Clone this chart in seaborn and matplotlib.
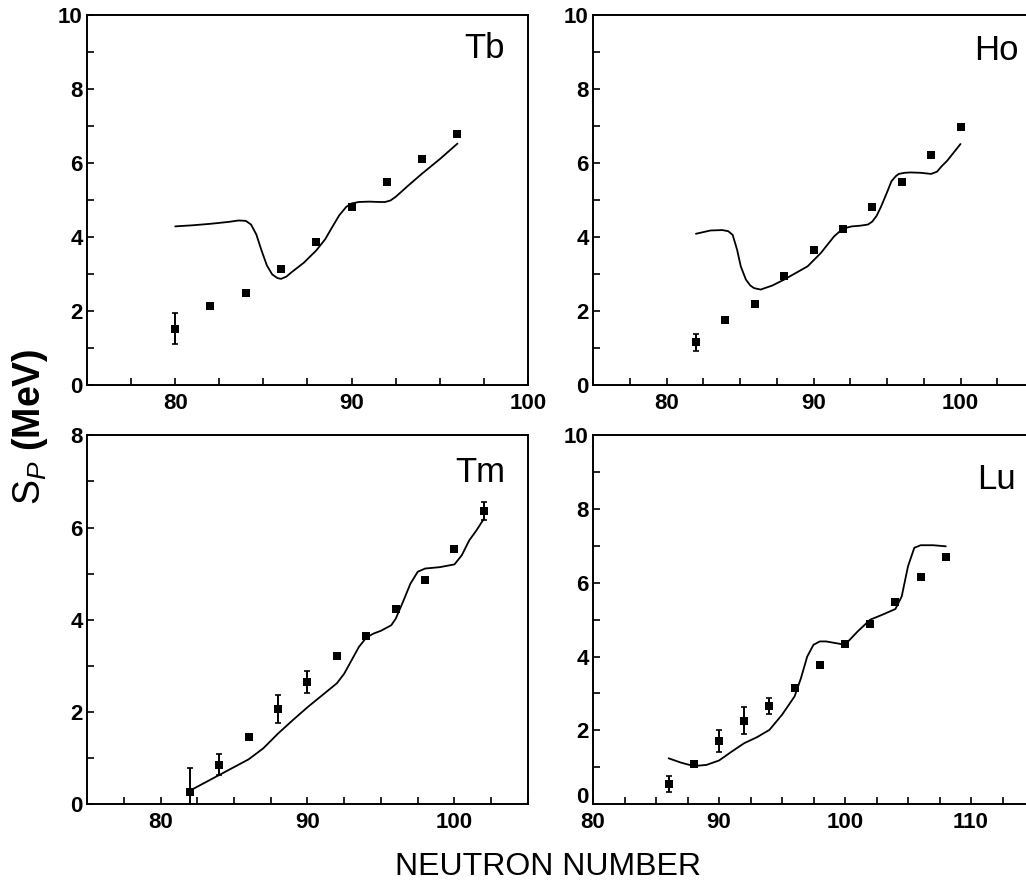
"""Proton separation energies S_P vs neutron number for Tb, Ho, Tm and Lu:
measured points (with error bars) and calculated curves."""
import pandas as pd
import seaborn as sns
import matplotlib.pyplot as plt
from matplotlib.ticker import MultipleLocator, FuncFormatter

# ---- measured points ----
tb_n = [80, 82, 84, 86, 88, 90, 92, 94, 96]
tb_sp = [1.51, 2.12, 2.48, 3.13, 3.86, 4.81, 5.49, 6.11, 6.79]
tb_err = [0.42, 0, 0, 0, 0, 0, 0, 0, 0]

ho_n = [82, 84, 86, 88, 90, 92, 94, 96, 98, 100]
ho_sp = [1.14, 1.76, 2.18, 2.95, 3.63, 4.21, 4.80, 5.48, 6.22, 6.98]
ho_err = [0.22, 0, 0, 0, 0, 0, 0, 0, 0, 0]

tm_n = [82, 84, 86, 88, 90, 92, 94, 96, 98, 100, 102]
tm_sp = [0.27, 0.85, 1.46, 2.06, 2.64, 3.21, 3.65, 4.24, 4.86, 5.53, 6.36]
tm_err = [0.52, 0.23, 0, 0.30, 0.24, 0.07, 0, 0, 0, 0, 0.20]

lu_n = [86, 88, 90, 92, 94, 96, 98, 100, 102, 104, 106, 108]
lu_sp = [0.54, 1.09, 1.71, 2.26, 2.66, 3.16, 3.77, 4.34, 4.89, 5.49, 6.17, 6.70]
lu_err = [0.22, 0, 0.29, 0.37, 0.22, 0.05, 0, 0, 0, 0, 0, 0]

# ---- calculated curves ----
tb_curve_n = [80, 81, 82, 83, 83.6, 84.0, 84.3, 84.6, 84.9, 85.2, 85.5, 85.8, 86.0, 86.3,
              86.6, 87.3, 88.0, 88.5, 88.9, 89.3, 89.7, 90.0, 90.4, 91.0, 91.6, 91.9, 92.2,
              92.5, 93.2, 94.0, 95.0, 96.0]
tb_curve_sp = [4.28, 4.31, 4.35, 4.40, 4.44, 4.43, 4.33, 4.06, 3.62, 3.22, 2.98, 2.88, 2.86,
               2.92, 3.04, 3.30, 3.63, 3.93, 4.26, 4.58, 4.81, 4.90, 4.94, 4.95, 4.94, 4.94,
               4.98, 5.08, 5.38, 5.71, 6.10, 6.52]

ho_curve_n = [82, 83, 83.8, 84.2, 84.5, 84.8, 85.05, 85.4, 85.7, 85.95, 86.4, 87.2, 88.0,
              89.6, 90.5, 91.4, 91.8, 92.1, 92.6, 93.2, 93.7, 94.0, 94.3, 94.6, 95.0, 95.3,
              95.6, 95.8, 96.2, 96.6, 97.3, 98.0, 98.4, 98.7, 99.1, 99.5, 100]
ho_curve_sp = [4.08, 4.17, 4.18, 4.15, 4.05, 3.65, 3.20, 2.84, 2.68, 2.61, 2.57, 2.68, 2.84,
               3.20, 3.56, 4.01, 4.15, 4.23, 4.28, 4.30, 4.33, 4.41, 4.57, 4.82, 5.20, 5.50,
               5.64, 5.70, 5.73, 5.74, 5.73, 5.70, 5.76, 5.90, 6.06, 6.26, 6.51]

tm_curve_n = [82, 84, 86, 87, 88, 89, 90, 91, 92, 92.5, 93, 93.5, 94, 94.5, 95, 95.7,
              96, 96.5, 97, 97.5, 98, 99, 100, 100.5, 101, 101.5, 102]
tm_curve_sp = [0.29, 0.63, 0.97, 1.21, 1.53, 1.82, 2.10, 2.36, 2.62, 2.83, 3.12, 3.41, 3.61,
               3.70, 3.76, 3.88, 4.02, 4.39, 4.78, 5.04, 5.11, 5.14, 5.20, 5.40, 5.72, 5.94, 6.19]

lu_curve_n = [86, 87, 88, 89, 90, 91, 92, 93, 94, 95, 96, 96.5, 97, 97.5, 98, 98.5, 99,
              100, 101, 102, 103, 104, 104.5, 105, 105.5, 106, 107, 108]
lu_curve_sp = [1.24, 1.12, 1.03, 1.06, 1.18, 1.42, 1.65, 1.81, 2.01, 2.42, 2.92, 3.41, 4.00,
               4.32, 4.41, 4.41, 4.38, 4.32, 4.68, 5.00, 5.14, 5.29, 5.63, 6.45, 6.95, 7.02,
               7.02, 6.99]

panels = [
    # name, points, curve, xlim, ymax, axes rect, label pos
    ("Tb", (tb_n, tb_sp, tb_err), (tb_curve_n, tb_curve_sp), (75, 100), 10,
     [0.0848, 0.565, 0.4298, 0.418], (0.948, 0.954)),
    ("Ho", (ho_n, ho_sp, ho_err), (ho_curve_n, ho_curve_sp), (75, 105), 10,
     [0.578, 0.565, 0.4298, 0.418], (0.964, 0.950)),
    ("Tm", (tm_n, tm_sp, tm_err), (tm_curve_n, tm_curve_sp), (75, 105), 8,
     [0.0848, 0.0905, 0.4298, 0.417], (0.948, 0.944)),
    ("Lu", (lu_n, lu_sp, lu_err), (lu_curve_n, lu_curve_sp), (80, 115), 10,
     [0.578, 0.0905, 0.4298, 0.417], (0.959, 0.926)),
]

sns.set_style("ticks")
plt.rcParams["font.family"] = ["Liberation Sans", "DejaVu Sans"]
plt.rcParams["text.color"] = "black"
plt.rcParams["xtick.color"] = "black"
plt.rcParams["ytick.color"] = "black"
plt.rcParams["mathtext.fontset"] = "custom"
plt.rcParams["mathtext.rm"] = "Liberation Sans"
plt.rcParams["mathtext.it"] = "Liberation Sans:italic"
plt.rcParams["mathtext.bf"] = "Liberation Sans:bold"

fig = plt.figure(figsize=(10.26, 8.84), dpi=100)

for name, (pn, psp, perr), (cn, csp), xlim, ymax, rect, lpos in panels:
    ax = fig.add_axes(rect)
    pts = pd.DataFrame({"N": pn, "Sp": psp, "err": perr})
    curve = pd.DataFrame({"N": cn, "Sp": csp})

    sns.lineplot(data=curve, x="N", y="Sp", ax=ax, color="black", linewidth=1.3,
                 sort=False, estimator=None)
    bars = pts[pts["err"] > 0]
    ax.errorbar(bars["N"], bars["Sp"], yerr=bars["err"], fmt="none", ecolor="black",
                elinewidth=1.4, capsize=2, capthick=1.2)
    sns.scatterplot(data=pts, x="N", y="Sp", ax=ax, marker="s", s=32, color="black",
                    edgecolor="black", linewidth=0)

    ax.set_xlim(*xlim)
    ax.set_ylim(0, ymax)
    ax.xaxis.set_major_locator(MultipleLocator(10))
    ax.xaxis.set_minor_locator(MultipleLocator(2.5))
    ax.yaxis.set_major_locator(MultipleLocator(2))
    ax.yaxis.set_minor_locator(MultipleLocator(1))
    ax.xaxis.set_major_formatter(FuncFormatter(lambda v, p: f"{v:.0f}"))
    if name == "Lu":
        # the "0" sits a little higher in the original, clear of the "80" below it
        ax.yaxis.set_major_formatter(FuncFormatter(lambda v, p: "" if v == 0 else f"{v:.0f}"))
        ax.annotate("0", xy=(0, 0), xycoords="axes fraction", xytext=(-3, 5),
                    textcoords="offset points", ha="right", va="center",
                    fontsize=16, fontweight="bold")
    else:
        ax.yaxis.set_major_formatter(FuncFormatter(lambda v, p: f"{v:.0f}"))
    ax.tick_params(which="both", direction="in", length=5, width=1.2, color="black")
    ax.tick_params(axis="x", which="major", pad=6, labelsize=16)
    ax.tick_params(axis="y", which="major", pad=3, labelsize=16)
    for lab in ax.get_xticklabels() + ax.get_yticklabels():
        lab.set_fontweight("bold")
    for sp in ax.spines.values():
        sp.set_visible(True)
        sp.set_linewidth(1.4)
        sp.set_color("black")
    ax.set_xlabel("")
    ax.set_ylabel("")
    ax.text(lpos[0], lpos[1], name, transform=ax.transAxes, ha="right", va="top",
            fontsize=25)

fig.text(0.029, 0.517, r"$\mathregular{S}_{\mathit{P}}$ $\mathbf{(MeV)}$", rotation=90,
         ha="center", va="center", fontsize=27)
fig.text(0.534, 0.019, "NEUTRON NUMBER", ha="center", va="center", fontsize=23)

fig.savefig("out.png", dpi=100)
